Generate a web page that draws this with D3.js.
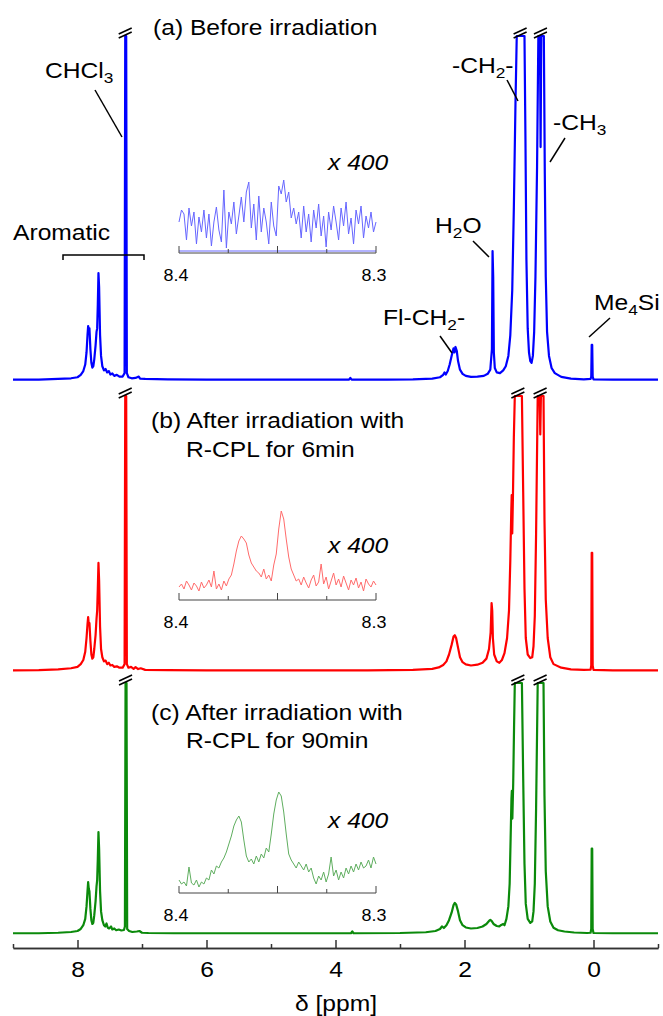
<!DOCTYPE html>
<html>
<head>
<meta charset="utf-8">
<script src="https://cdn.jsdelivr.net/npm/d3@7"></script>
<style>
    body { margin: 0; background: #fff; }
    svg text { font-family: "Liberation Sans", Arial, sans-serif; fill: #000; }
</style>
</head>
<body>
<div id="chart"></div>
<script>
// spectra: [ppm, intensity in % of the cut-off height]
const spectrumA = [[9.0,0.1],[8.6,0.1],[8.3,0.3],[8.1,0.5],[8.0,0.8],[7.95,1.5],[7.91,2.6],[7.88,4.5],[7.86,8],[7.845,13],[7.835,15.7],[7.825,14],[7.815,15],[7.80,9],[7.785,5],[7.77,3.6],[7.755,4],[7.74,6],[7.72,10],[7.705,14],[7.695,15],[7.685,22],[7.675,31.1],[7.665,27],[7.65,13],[7.635,7],[7.615,4],[7.59,2.8],[7.565,3.2],[7.54,2.2],[7.515,2.6],[7.49,1.6],[7.46,1.9],[7.43,1.2],[7.39,1.5],[7.35,1],[7.3,1],[7.27,2],[7.26,100],[7.245,100],[7.235,2],[7.21,0.8],[7.16,0.5],[7.1,0.6],[7.05,1],[7.03,0.4],[6.95,0.3],[6.6,0.2],[6.0,0.1],[5.0,0.1],[4.2,0.1],[3.79,0.1],[3.77,0.6],[3.75,0.1],[3.2,0.1],[2.8,0.2],[2.5,0.4],[2.38,0.8],[2.33,1.5],[2.31,2.2],[2.29,1.6],[2.26,2.6],[2.23,4.5],[2.2,7],[2.17,9.2],[2.155,8],[2.14,9.6],[2.12,8.5],[2.1,5.5],[2.07,3],[2.03,1.8],[1.98,1.2],[1.9,0.9],[1.8,1],[1.7,1.2],[1.64,1.8],[1.6,3],[1.575,9],[1.565,37.5],[1.555,30],[1.545,8],[1.53,3.5],[1.5,2.2],[1.45,2],[1.4,2.8],[1.36,4],[1.32,7],[1.29,13],[1.26,26],[1.235,50],[1.21,80],[1.19,100],[1.07,100],[1.055,70],[1.04,35],[1.02,15],[1.0,8],[0.98,5.5],[0.96,5],[0.94,7],[0.92,14],[0.9,30],[0.875,62],[0.855,100],[0.83,100],[0.82,67.7],[0.81,100],[0.77,100],[0.755,60],[0.74,30],[0.72,14],[0.69,7],[0.65,3.5],[0.6,2],[0.5,0.9],[0.35,0.4],[0.15,0.2],[0.045,0.3],[0.035,1],[0.028,10.2],[0.02,10.2],[0.013,1],[0.0,0.2],[-0.3,0.1],[-1.0,0.1]];

const spectrumB = [[9.0,0.2],[8.6,0.3],[8.3,0.6],[8.1,1],[8.0,1.5],[7.95,2.5],[7.91,4],[7.88,7],[7.86,12],[7.845,17],[7.835,19.6],[7.825,17],[7.815,17.5],[7.80,11],[7.785,6],[7.77,4.5],[7.755,5],[7.74,8],[7.72,13],[7.705,19],[7.695,22],[7.685,30],[7.675,39.3],[7.665,33],[7.65,16],[7.635,8],[7.615,5],[7.59,3.5],[7.565,3.8],[7.54,2.5],[7.515,3],[7.49,2],[7.46,2.2],[7.43,1.5],[7.39,1.7],[7.35,1.2],[7.3,1.2],[7.27,2.5],[7.26,100],[7.245,100],[7.235,2.5],[7.21,1.2],[7.17,1.5],[7.13,0.8],[7.1,1.4],[7.06,0.7],[7.02,1],[6.95,0.4],[6.6,0.3],[6.0,0.2],[5.0,0.2],[4.2,0.2],[3.5,0.2],[2.8,0.4],[2.5,0.8],[2.4,1.3],[2.33,2.2],[2.28,3.5],[2.24,6],[2.2,9.5],[2.17,12.5],[2.15,13],[2.13,12],[2.1,8.5],[2.07,5],[2.03,3.2],[1.98,2.4],[1.9,2],[1.8,2.3],[1.72,3],[1.66,4.5],[1.62,8],[1.595,14],[1.58,24.7],[1.57,22],[1.56,12],[1.54,6],[1.5,3.5],[1.46,3],[1.42,4],[1.38,6.5],[1.34,12],[1.31,22],[1.29,40],[1.275,58],[1.268,64],[1.26,50],[1.25,62],[1.235,85],[1.22,100],[1.11,100],[1.09,65],[1.07,30],[1.05,12],[1.02,6],[0.98,4.7],[0.95,5],[0.93,9],[0.91,20],[0.89,50],[0.865,100],[0.835,100],[0.825,86],[0.815,100],[0.775,100],[0.76,55],[0.74,26],[0.71,12],[0.67,5],[0.62,2.5],[0.5,1.2],[0.35,0.6],[0.15,0.4],[0.045,0.5],[0.035,2],[0.028,43],[0.02,43],[0.013,2],[0.0,0.4],[-0.3,0.2],[-1.0,0.2]];

const spectrumC = [[9.0,0.3],[8.6,0.3],[8.3,0.5],[8.1,0.8],[8.0,1.2],[7.95,2],[7.91,3.5],[7.88,6],[7.86,11],[7.845,17],[7.835,20.7],[7.825,18],[7.815,17],[7.80,10],[7.785,5.5],[7.77,4],[7.755,4.5],[7.74,7.5],[7.72,13],[7.705,19],[7.695,21.5],[7.685,30],[7.675,40.6],[7.665,34],[7.65,17],[7.635,9],[7.615,5.5],[7.59,3.5],[7.57,3],[7.55,4.2],[7.53,2.5],[7.51,2.2],[7.48,3],[7.46,1.8],[7.43,2.2],[7.40,1.5],[7.36,1.8],[7.32,1.4],[7.28,1.6],[7.265,3],[7.255,100],[7.24,100],[7.23,2],[7.2,1.2],[7.15,0.8],[7.08,1],[7.04,1.2],[7.0,0.5],[6.9,0.4],[6.5,0.3],[6.0,0.3],[5.0,0.3],[4.0,0.3],[3.76,0.3],[3.74,1],[3.72,0.3],[3.0,0.4],[2.6,0.7],[2.45,1.2],[2.38,2],[2.35,3],[2.32,2.4],[2.28,3.5],[2.24,5.5],[2.2,8.5],[2.17,11.5],[2.15,12.4],[2.13,11.8],[2.1,9],[2.07,5.5],[2.03,3.5],[1.98,2.6],[1.9,2.2],[1.8,2.4],[1.72,3],[1.66,4],[1.62,5.2],[1.6,5.6],[1.58,5.2],[1.55,4],[1.5,3.2],[1.46,3],[1.43,3.6],[1.4,4],[1.38,3.5],[1.35,6],[1.32,11],[1.3,20],[1.285,38],[1.272,54],[1.266,57],[1.258,46],[1.245,60],[1.232,82],[1.22,100],[1.11,100],[1.09,62],[1.07,28],[1.05,12],[1.02,6],[0.98,4.4],[0.95,5],[0.93,9],[0.91,20],[0.89,50],[0.865,100],[0.775,100],[0.76,55],[0.74,25],[0.71,11],[0.67,5],[0.62,2.5],[0.55,1.5],[0.45,1],[0.3,0.6],[0.1,0.4],[0.045,0.5],[0.035,2],[0.028,34],[0.02,34],[0.013,2],[0.0,0.4],[-0.3,0.3],[-1.0,0.3]];

// peaks cut at the top (ppm)
const cutsA = [7.2525, 1.13, 0.815];
const cutsB = [7.2525, 1.165, 0.82];
const cutsC = [7.2475, 1.165, 0.82];

// x400 insets, 8.4 -> 8.3 ppm, evenly sampled
const insetA = [30,42,38,12,44,26,40,8,35,20, 42,14,38,6,30,45,22,10,62,4, 40,28,50,18,36,55,30,60,70,24, 48,12,56,20,44,30,8,50,26,16, 66,58,72,50,60,34,44,28,40,14, 46,20,38,10,42,24,48,16,36,5, 40,22,46,30,12,44,26,50,18,34, 8,42,28,46,14,36,24,40,20,30];
const insetB = [12,15,10,18,14,9,16,13,8,17, 11,14,19,12,28,10,15,9,18,13, 20,24,35,48,58,63,60,56,44,36, 32,28,26,22,30,20,24,18,34,45, 70,88,80,60,42,30,24,18,20,14, 22,16,11,19,24,13,17,35,15,22, 10,18,26,14,20,12,23,16,9,19, 14,21,11,17,8,20,15,12,18,14];
const insetC = [12,8,10,6,25,9,7,12,5,10, 8,14,12,22,18,26,24,30,34,40, 48,56,66,72,76,70,52,36,30,33, 28,36,30,38,34,44,40,58,78,92, 100,96,80,58,38,32,28,24,30,26, 22,28,20,24,14,8,16,12,20,10, 18,35,16,22,12,20,14,24,18,26, 20,28,22,30,24,26,32,24,35,28];
const insetTicks = [8.4, 8.375, 8.35, 8.325, 8.3];
const insetTickLabels = ["8.4", "8.3"];

const majorTicks = [8, 6, 4, 2, 0];
const minorTicks = [9, 7, 5, 3, 1, -1];

const W = 663, H = 1016;
const svg = d3.select("#chart").append("svg")
    .attr("width", W)
    .attr("height", H);

const x = d3.scaleLinear().domain([9, -1]).range([13, 658]);

// text is a bit wider than Arial in the original
function addText(parent, px, py, parts, opt = {}) {
    const g = parent.append("g").attr("transform", `translate(${px},${py}) scale(1.12,1)`);
    const size = opt.size || 22;
    const t = g.append("text")
        .attr("font-size", size)
        .attr("text-anchor", opt.anchor || "start");
    if (opt.italic) t.attr("font-style", "italic");
    let shifted = false;
    parts.forEach(p => {
        if (typeof p === "string") {
            t.append("tspan").attr("dy", shifted ? -5 : 0).text(p);
            shifted = false;
        } else {
            t.append("tspan").attr("font-size", size * 0.7).attr("dy", 5).text(p.sub);
            shifted = true;
        }
    });
    return t;
}

function leader(x1, y1, x2, y2) {
    svg.append("line")
        .attr("x1", x1).attr("y1", y1).attr("x2", x2).attr("y2", y2)
        .attr("stroke", "#000").attr("stroke-width", 1.5);
}

const panels = [
    { data: spectrumA, cuts: cutsA, inset: insetA, color: "#0000ff", light: "#6666ff", base: 380, top: 36, insetAxis: 253, x400: 170 },
    { data: spectrumB, cuts: cutsB, inset: insetB, color: "#ff0000", light: "#ff6b6b", base: 671, top: 396, insetAxis: 600, x400: 553 },
    { data: spectrumC, cuts: cutsC, inset: insetC, color: "#0b8a0b", light: "#5fae5f", base: 934, top: 683, insetAxis: 893, x400: 828 }
];

const ix = d3.scaleLinear().domain([8.4, 8.3]).range([179, 376]);

panels.forEach(p => {
    const y = d3.scaleLinear().domain([0, 100]).range([p.base, p.top]);

    const line = d3.line()
        .x(d => x(d[0]))
        .y(d => y(d[1]));

    svg.append("path")
        .datum(p.data)
        .attr("fill", "none")
        .attr("stroke", p.color)
        .attr("stroke-width", 2.2)
        .attr("stroke-linejoin", "round")
        .attr("d", line);

    // break marks on the cut peaks
    p.cuts.forEach(c => {
        const cx = x(c), cy = y(100);
        [[-2, -8], [2, -4]].forEach(o => {
            svg.append("line")
                .attr("x1", cx - 7).attr("y1", cy + o[0])
                .attr("x2", cx + 6).attr("y2", cy + o[1])
                .attr("stroke", "#000").attr("stroke-width", 1.6);
        });
    });

    // inset
    const idx = d3.scaleLinear().domain([0, p.inset.length - 1]).range([8.4, 8.3]);
    const iy = d3.scaleLinear().domain([0, 100]).range([p.insetAxis - 1, p.insetAxis - 101]);

    if (p.color === "#0000ff") {
        svg.append("line")
            .attr("x1", ix(8.4)).attr("x2", ix(8.3))
            .attr("y1", p.insetAxis - 2).attr("y2", p.insetAxis - 2)
            .attr("stroke", p.light).attr("stroke-width", 1);
    }
    svg.append("path")
        .datum(p.inset)
        .attr("fill", "none")
        .attr("stroke", p.light)
        .attr("stroke-width", 1)
        .attr("d", d3.line().x((d, i) => ix(idx(i))).y(d => iy(d)));

    svg.append("line")
        .attr("x1", ix(8.4)).attr("x2", ix(8.3))
        .attr("y1", p.insetAxis).attr("y2", p.insetAxis)
        .attr("stroke", "#444").attr("stroke-width", 1);
    insetTicks.forEach((t, i) => {
        const len = i % 2 === 0 ? 7 : 4;
        svg.append("line")
            .attr("x1", ix(t)).attr("x2", ix(t))
            .attr("y1", p.insetAxis).attr("y2", p.insetAxis - len)
            .attr("stroke", "#444").attr("stroke-width", 1);
    });
    addText(svg, ix(8.4) - 3, p.insetAxis + 28, [insetTickLabels[0]], { size: 16, anchor: "middle" });
    addText(svg, ix(8.3) - 2, p.insetAxis + 28, [insetTickLabels[1]], { size: 16, anchor: "middle" });
    addText(svg, 328, p.x400, ["x 400"], { italic: true });
});

// titles
addText(svg, 153, 35, ["(a) Before irradiation"]);
addText(svg, 151, 428, ["(b) After irradiation with"]);
addText(svg, 186, 457, ["R-CPL for 6min"]);
addText(svg, 151, 720, ["(c) After irradiation with"]);
addText(svg, 186, 748, ["R-CPL for 90min"]);

// peak labels (top spectrum)
addText(svg, 45, 78, ["CHCl", { sub: "3" }]);
leader(95, 90, 122, 137);
addText(svg, 452, 73, ["-CH", { sub: "2" }, "-"]);
leader(507, 80, 518, 101);
addText(svg, 553, 130, ["-CH", { sub: "3" }]);
leader(565, 138, 550, 162);
addText(svg, 435, 233, ["H", { sub: "2" }, "O"]);
leader(473, 241, 489, 257);
addText(svg, 383, 325, ["Fl-CH", { sub: "2" }, "-"]);
leader(440, 336, 452, 353);
addText(svg, 594, 310, ["Me", { sub: "4" }, "Si"]);
leader(610, 318, 589, 337);

addText(svg, 13, 240, ["Aromatic"]);
svg.append("path")
    .attr("d", `M63,260 V255 H144 V260`)
    .attr("fill", "none")
    .attr("stroke", "#000")
    .attr("stroke-width", 1.5);

// x axis
const axisY = 948;
const gMajor = svg.append("g")
    .attr("transform", `translate(0,${axisY})`)
    .call(d3.axisBottom(x).tickValues(majorTicks).tickSizeInner(-8).tickSizeOuter(0).tickPadding(13).tickFormat(d3.format("d")));
const gMinor = svg.append("g")
    .attr("transform", `translate(0,${axisY})`)
    .call(d3.axisBottom(x).tickValues(minorTicks).tickSizeInner(-4).tickSizeOuter(0).tickFormat(""));
[gMajor, gMinor].forEach(g => {
    g.select(".domain").attr("stroke", "#333").attr("stroke-width", 1.5);
    g.selectAll(".tick line").attr("stroke", "#333").attr("stroke-width", 1.5);
});
gMajor.selectAll(".tick text")
    .attr("font-size", 22)
    .attr("font-family", "Liberation Sans, Arial, sans-serif")
    .attr("fill", "#000")
    .attr("transform", "scale(1.12,1)");

addText(svg, 336, 1011, ["δ [ppm]"], { anchor: "middle" });
</script>
</body>
</html>
